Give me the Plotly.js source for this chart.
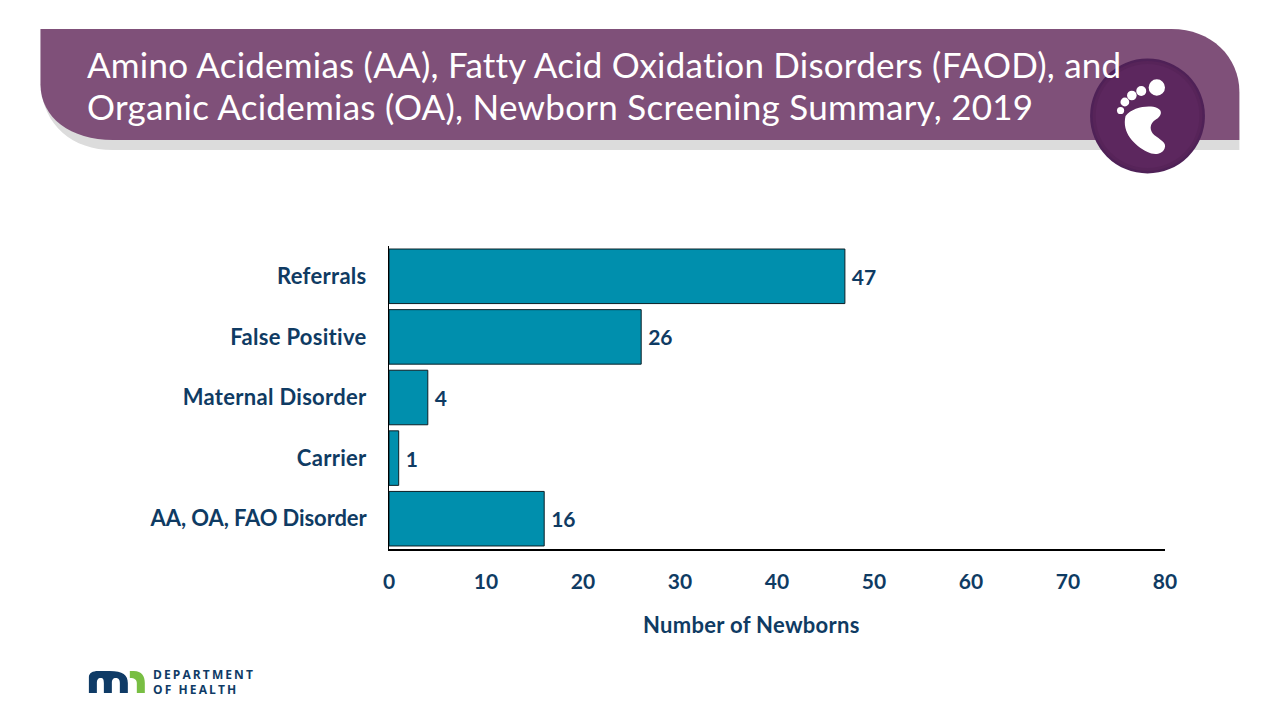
<!DOCTYPE html>
<html><head><meta charset="utf-8">
<script src="https://cdn.plot.ly/plotly-3.0.1.min.js"></script>
<style>
html,body{margin:0;padding:0;background:#fff;overflow:hidden}
svg text{font-variant-ligatures:none}
.annotation[data-index="0"] text{letter-spacing:.22px}
.annotation[data-index="1"] text{letter-spacing:.27px}
.annotation[data-index="2"] text{letter-spacing:.3px}
.annotation[data-index="3"] text,.annotation[data-index="4"] text{letter-spacing:2.1px}
.ytick text{letter-spacing:.3px}
.ytick text[data-unformatted*="AA,"]{letter-spacing:-.1px}
</style></head><body><div id="chart" style="width:1280px;height:720px"></div>
<script>
const categories = ["Referrals","False Positive","Maternal Disorder","Carrier","AA, OA, FAO Disorder"];
const newborns = [47,26,4,1,16];
const titleLines = ["Amino Acidemias (AA), Fatty Acid Oxidation Disorders (FAOD), and","Organic Acidemias (OA), Newborn Screening Summary, 2019"];
const xTicks = [0,10,20,30,40,50,60,70,80];
const navy = "#0f3b63", font = "Lato, Carlito, sans-serif";

// Helpers for decorations placed in page pixels
const W=1280,H=720,ml=388.5,mr=114.5,mt=246,mb=171,pw=W-ml-mr,ph=H-mt-mb;
const X=x=>((x-ml)/pw).toFixed(5), Y=y=>((H-mb-y)/ph).toFixed(5);
function path(cmds,fill){
  const d=cmds.map(c=>{let s=c[0];for(let i=1;i<c.length;i+=2)s+=(i>1?" ":"")+X(c[i])+","+Y(c[i+1]);return s;}).join(" ")+" Z";
  return {type:"path",xref:"paper",yref:"paper",path:d,fillcolor:fill,line:{width:0},layer:"below"};
}
function circle(cx,cy,r,fill){
  return {type:"circle",xref:"paper",yref:"paper",x0:X(cx-r),x1:X(cx+r),y0:Y(cy+r),y1:Y(cy-r),fillcolor:fill,line:{width:0},layer:"below"};
}
function banner(fill,b){
  return path([["M",39.5,29],["L",1172,29],["C",1212,29,1240,57,1240,92],["L",1240,b],["L",112,b],
    ["C",70,b,39.5,118,39.5,84]],fill);
}
const z=(a,b)=>[1060+a/3,20+b/3]; // foot outline taken from the reference crop
const foot=[["M",...z(198,288)],["C",...z(218,262),...z(268,254),...z(293,264)],["C",...z(312,272),...z(304,290),...z(290,298)],
  ["C",...z(268,312),...z(270,332),...z(284,345)],["C",...z(300,358),...z(324,368),...z(315,386)],["C",...z(306,406),...z(280,404),...z(264,396)],
  ["C",...z(224,376),...z(186,338),...z(198,288)]];
const shapes=[
  path([["M",39.5,84],["C",42,126,72,150,112,150],["L",1240,150],["L",1240,130],["L",112,130]],"#dcdcdc"),
  banner("#7f5079",140),
  circle(1148,116,57.5,"#4f2157"),circle(1148,116,55,"#572459"),circle(1148,116,52,"#5c275e"),
  path(foot,"#ffffff"),
  circle(1157.3,87.5,8.2,"#fff"),circle(1141.7,91,5,"#fff"),circle(1132.3,95.5,4.8,"#fff"),circle(1125.3,102,4.4,"#fff"),circle(1121,110.5,3.6,"#fff"),
  // department logo
  path([["M",88,693],["L",88,677],["C",88,673,92,671,97,671],["L",109,671],["C",122,671,127,675,127,683],["L",127,693],["L",119,693],["L",119,683],
    ["C",119,679,117,678,115,678],["C",112,678,111,680,111,683],["L",111,693],["L",103,693],["L",103,683],["C",103,679,102,678,100,678],["C",97,678,96,680,96,683],["L",96,693]],"#0f3b66"),
  path([["M",129,671],["L",133,671],["C",141,671,144,676,144,683],["L",144,693],["L",136,693],["L",136,683],["C",136,680,134,678,129,678]],"#78be43")
];
const ann=(text,x,y,size,color,extra)=>Object.assign({xref:"paper",yref:"paper",x:X(x),y:Y(y),text,showarrow:false,xanchor:"left",yanchor:"middle",
  font:{family:font,size,color},align:"left"},extra||{});
const logoFont={family:"'Open Sans',sans-serif",size:12,color:"#0f3b66"};
const annotations=[
  ann(titleLines[0],84.5,64,35,"#fff"),
  ann(titleLines[1],84.5,106,35,"#fff"),
  ann("<b>Number of Newborns</b>",748,624.5,22,navy,{xanchor:"center"}),
  ann("<b>DEPARTMENT</b>",150,675,12,"#0f3b66",{font:logoFont}),
  ann("<b>OF HEALTH</b>",150,689,12,"#0f3b66",{font:logoFont})
];
Plotly.newPlot("chart",[{
  type:"bar",orientation:"h",y:categories,x:newborns,
  marker:{color:"#008fad",line:{color:"#0b1f26",width:1}},
  text:newborns.map(v=>"\u2009\u200a<b>"+v+"</b>"),textposition:"outside",cliponaxis:false,
  textfont:{family:font,size:21,color:navy},hoverinfo:"skip"
}],{
  width:W,height:H,showlegend:false,paper_bgcolor:"#fff",plot_bgcolor:"#fff",
  margin:{l:ml,r:mr,t:mt,b:mb,pad:0},bargap:0.1,
  xaxis:{range:[0,80],tickvals:xTicks,ticktext:xTicks.map(v=>"<b>"+v+"</b>"),showgrid:false,zeroline:false,showline:true,linecolor:"#000",linewidth:1.5,
    ticks:"",ticklabelstandoff:13,tickfont:{family:font,size:21,color:navy},fixedrange:true},
  yaxis:{autorange:"reversed",type:"category",tickvals:categories,ticktext:categories.map(c=>"<b>"+c+"</b>"),showgrid:false,zeroline:false,showline:true,linecolor:"#000",linewidth:1,
    ticks:"",ticklabelstandoff:17,tickfont:{family:font,size:22,color:navy},fixedrange:true},
  shapes,annotations
},{displayModeBar:false,staticPlot:true});
</script></body></html>
